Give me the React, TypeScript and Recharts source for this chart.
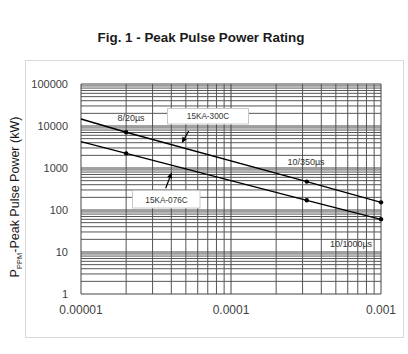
import { LineChart, Line, XAxis, YAxis, ReferenceLine } from 'recharts';

// pulse duration (s) and peak pulse power (kW)
const PULSE_TIME = [0.00001, 0.00002, 0.00032, 0.001];
const POWER_300C = [14700, 7100, 475, 152];
const POWER_076C = [4250, 2230, 170, 60];
const HAS_DOT = [false, true, true, true];

const X_TICKS = [0.00001, 0.0001, 0.001];
const X_TICK_LABELS = ['0.00001', '0.0001', '0.001'];
const Y_TICKS = [1, 10, 100, 1000, 10000, 100000];
const Y_TICK_LABELS = ['1', '10', '100', '1000', '10000', '100000'];

// log grid: decades plus 2..9 inside each
const X_DECADES = [0.00001, 0.0001];
const Y_DECADES = [1, 10, 100, 1000, 10000];
const MANTISSAS = [2, 3, 4, 5, 6, 7, 8, 9];

const data = PULSE_TIME.map((t, i) => ({ t, a: POWER_300C[i], b: POWER_076C[i], dot: HAS_DOT[i] }));

const xMinor = X_DECADES.flatMap((d) => MANTISSAS.map((m) => m * d));
const yMinor = Y_DECADES.flatMap((d) => MANTISSAS.map((m) => m * d));

const FONT = 'Liberation Sans, Arial, sans-serif';
const GRID = '#555';

const renderDot = (p: any) => {
  if (!p.payload.dot) return <g key={`n${p.index}`} />;
  return <circle key={`d${p.index}`} cx={p.cx} cy={p.cy} r={2.2} fill="#000" />;
};

function Arrow({ x1, y1, x2, y2 }: { x1: number; y1: number; x2: number; y2: number }) {
  const dx = x2 - x1;
  const dy = y2 - y1;
  const len = Math.sqrt(dx * dx + dy * dy);
  const ux = dx / len;
  const uy = dy / len;
  const bx = x2 - ux * 6;
  const by = y2 - uy * 6;
  const pts = `${x2},${y2} ${bx - uy * 2.5},${by + ux * 2.5} ${bx + uy * 2.5},${by - ux * 2.5}`;
  return (
    <g>
      <line x1={x1} y1={y1} x2={bx} y2={by} stroke="#000" strokeWidth={1.2} />
      <polygon points={pts} fill="#000" />
    </g>
  );
}

export default function App() {
  return (
    <div style={{ position: 'absolute', left: 0, top: 0, width: 408, height: 354, background: '#fff', fontFamily: FONT }}>
      <svg width={408} height={354} style={{ position: 'absolute', left: 0, top: 0 }}>
        <rect x={25.5} y={60.5} width={378} height={277} fill="none" stroke="#d9d9d9" />
      </svg>
      <div style={{ position: 'absolute', left: 0, top: 0 }}>
        <LineChart width={408} height={354} data={data} margin={{ top: 84, right: 27, bottom: 30, left: 20 }}>
          {xMinor.map((v) => (
            <ReferenceLine key={`xm${v}`} x={v} stroke={GRID} strokeWidth={1} />
          ))}
          {yMinor.map((v) => (
            <ReferenceLine key={`ym${v}`} y={v} stroke={GRID} strokeWidth={1} />
          ))}
          {X_TICKS.map((v) => (
            <ReferenceLine key={`xM${v}`} x={v} stroke="#444" strokeWidth={1} />
          ))}
          {Y_TICKS.map((v) => (
            <ReferenceLine key={`yM${v}`} y={v} stroke="#444" strokeWidth={1} />
          ))}
          <XAxis
            type="number"
            dataKey="t"
            scale="log"
            domain={[0.00001, 0.001]}
            ticks={X_TICKS}
            interval={0}
            tickFormatter={(v: number) => X_TICK_LABELS[X_TICKS.indexOf(v)] ?? String(v)}
            axisLine={false}
            tickLine={false}
            tickSize={0}
            tickMargin={11}
            height={30}
            tick={{ fontSize: 12, fill: '#404040', fontFamily: FONT }}
          />
          <YAxis
            type="number"
            scale="log"
            domain={[1, 100000]}
            ticks={Y_TICKS}
            interval={0}
            tickFormatter={(v: number) => Y_TICK_LABELS[Y_TICKS.indexOf(v)] ?? String(v)}
            axisLine={false}
            tickLine={false}
            tickSize={0}
            tickMargin={13}
            width={61}
            tick={{ fontSize: 11, fill: '#404040', fontFamily: FONT }}
          />
          <Line dataKey="a" stroke="#000" strokeWidth={1.4} dot={renderDot} isAnimationActive={false} />
          <Line dataKey="b" stroke="#000" strokeWidth={1.4} dot={renderDot} isAnimationActive={false} />
        </LineChart>
      </div>
      <svg width={408} height={354} style={{ position: 'absolute', left: 0, top: 0, pointerEvents: 'none' }}>
        <text x={201} y={42} textAnchor="middle" fontSize={13.4} fontWeight="bold" fill="#1a1a1a" fontFamily={FONT}>
          Fig. 1 - Peak Pulse Power Rating
        </text>
        <text transform="translate(19,197) rotate(-90)" textAnchor="middle" fontSize={12.5} fill="#1a1a1a" fontFamily={FONT}>
          P<tspan fontSize={7.5} dy={3}>PPM</tspan>
          <tspan dy={-3}>-Peak Pulse Power (kW)</tspan>
        </text>
        <text x={131} y={121} textAnchor="middle" fontSize={9} fill="#333" fontFamily={FONT}>8/20µs</text>
        <text x={306} y={165} textAnchor="middle" fontSize={9} fill="#333" fontFamily={FONT}>10/350µs</text>
        <text x={351} y={247} textAnchor="middle" fontSize={9} fill="#333" fontFamily={FONT}>10/1000µs</text>
        <rect x={167.5} y={108.5} width={81} height={15.5} fill="#fff" stroke="#c8c8c8" />
        <text x={208} y={119} textAnchor="middle" fontSize={8.2} fill="#333" fontFamily={FONT}>15KA-300C</text>
        <rect x={132.5} y={190.5} width={67.5} height={17.5} fill="#fff" stroke="#c8c8c8" />
        <text x={166.5} y={202.5} textAnchor="middle" fontSize={8.2} fill="#333" fontFamily={FONT}>15KA-076C</text>
        <Arrow x1={188.7} y1={131} x2={181.7} y2={143.3} />
        <Arrow x1={165.7} y1={188.3} x2={171.7} y2={172.3} />
      </svg>
    </div>
  );
}
